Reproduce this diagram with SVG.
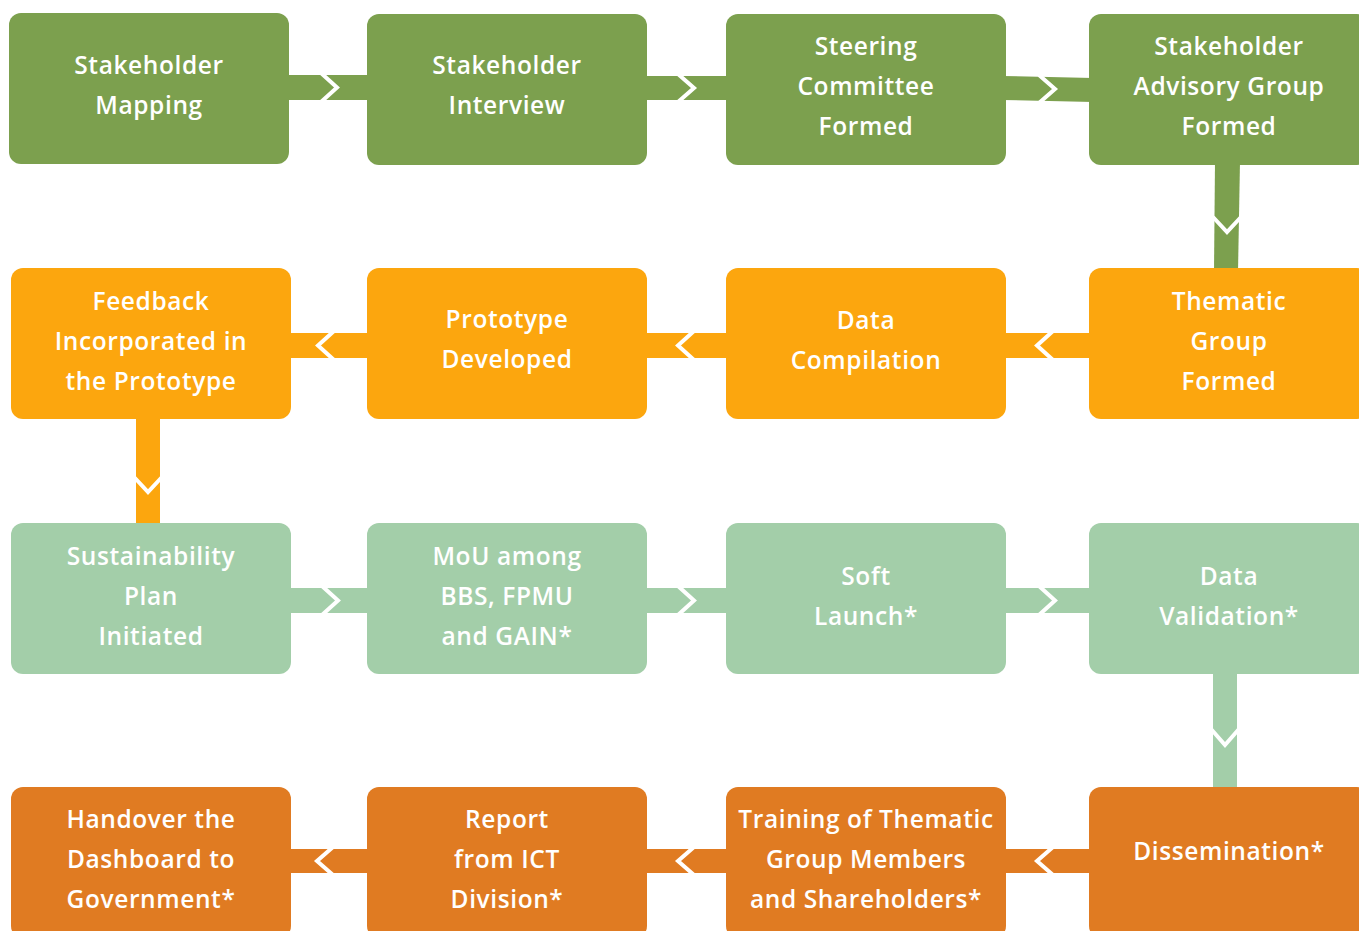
<svg xmlns="http://www.w3.org/2000/svg" width="1359" height="931" viewBox="0 0 1359 931">
<style>
.box{stroke:none}
.g{fill:#7ca04e}.o{fill:#fca60e}.l{fill:#a3cea9}.d{fill:#e07b22}
text{font-family:"Open Sans","Noto Sans","DejaVu Sans",sans-serif;font-weight:600;font-size:24.5px;letter-spacing:0.6px;fill:#ffffff;text-anchor:middle}
.cut{fill:none;stroke:#ffffff;stroke-width:4;stroke-linejoin:miter}
</style>
<rect width="1359" height="931" fill="#ffffff"/>
<g id="connectors">
  <!-- row 1 -->
  <rect class="g" x="285" y="75" width="86" height="25"/>
  <polyline class="cut" points="321,73 337,87.5 321,102"/>
  <rect class="g" x="643" y="76" width="87" height="24"/>
  <polyline class="cut" points="678,74 694,88 678,102"/>
  <polygon class="g" points="1002,76 1093,78 1093,102 1002,100"/>
  <polyline class="cut" points="1039,75 1055,89 1039,103"/>
  <!-- vertical col4 r1-r2 -->
  <polygon class="g" points="1215,161 1240,161 1238,272 1214,272"/>
  <polyline class="cut" points="1213,217 1227,232 1241,217"/>
  <!-- row 2 -->
  <rect class="o" x="287" y="333" width="84" height="25"/>
  <polyline class="cut" points="334,331 318,345.5 334,360"/>
  <rect class="o" x="643" y="333" width="87" height="25"/>
  <polyline class="cut" points="694,331 678,345.5 694,360"/>
  <rect class="o" x="1002" y="333" width="91" height="25"/>
  <polyline class="cut" points="1053,331 1037,345.5 1053,360"/>
  <!-- vertical col1 r2-r3 -->
  <rect class="o" x="136" y="415" width="24" height="112"/>
  <polyline class="cut" points="134,477 148,492 162,477"/>
  <!-- row 3 -->
  <rect class="l" x="287" y="588" width="84" height="25"/>
  <polyline class="cut" points="322,586 338,600.5 322,615"/>
  <rect class="l" x="643" y="588" width="87" height="25"/>
  <polyline class="cut" points="678,586 694,600.5 678,615"/>
  <rect class="l" x="1002" y="588" width="91" height="25"/>
  <polyline class="cut" points="1039,586 1055,600.5 1039,615"/>
  <!-- vertical col4 r3-r4 -->
  <rect class="l" x="1213" y="670" width="24" height="121"/>
  <polyline class="cut" points="1211,729 1225,745 1239,729"/>
  <!-- row 4 -->
  <rect class="d" x="287" y="849" width="84" height="24"/>
  <polyline class="cut" points="333,847 317,861 333,875"/>
  <rect class="d" x="643" y="849" width="87" height="24"/>
  <polyline class="cut" points="694,847 678,861 694,875"/>
  <rect class="d" x="1002" y="849" width="91" height="24"/>
  <polyline class="cut" points="1053,847 1037,861 1053,875"/>
</g>
<g id="n1"><rect class="box g" x="9" y="13" width="280" height="151" rx="12"/><text x="149" y="74">Stakeholder</text><text x="149" y="114">Mapping</text></g>
<g id="n2"><rect class="box g" x="367" y="14" width="280" height="151" rx="12"/><text x="507" y="74">Stakeholder</text><text x="507" y="114">Interview</text></g>
<g id="n3"><rect class="box g" x="726" y="14" width="280" height="151" rx="12"/><text x="866" y="55">Steering</text><text x="866" y="95">Committee</text><text x="866" y="135">Formed</text></g>
<g id="n4"><rect class="box g" x="1089" y="14" width="280" height="151" rx="12"/><text x="1229" y="55">Stakeholder</text><text x="1229" y="95">Advisory Group</text><text x="1229" y="135">Formed</text></g>
<g id="n5"><rect class="box o" x="1089" y="268" width="280" height="151" rx="12"/><text x="1229" y="310">Thematic</text><text x="1229" y="350">Group</text><text x="1229" y="390">Formed</text></g>
<g id="n6"><rect class="box o" x="726" y="268" width="280" height="151" rx="12"/><text x="866" y="329">Data</text><text x="866" y="369">Compilation</text></g>
<g id="n7"><rect class="box o" x="367" y="268" width="280" height="151" rx="12"/><text x="507" y="328">Prototype</text><text x="507" y="368">Developed</text></g>
<g id="n8"><rect class="box o" x="11" y="268" width="280" height="151" rx="12"/><text x="151" y="310">Feedback</text><text x="151" y="350">Incorporated in</text><text x="151" y="390">the Prototype</text></g>
<g id="n9"><rect class="box l" x="11" y="523" width="280" height="151" rx="12"/><text x="151" y="565">Sustainability</text><text x="151" y="605">Plan</text><text x="151" y="645">Initiated</text></g>
<g id="n10"><rect class="box l" x="367" y="523" width="280" height="151" rx="12"/><text x="507" y="565">MoU among</text><text x="507" y="605">BBS, FPMU</text><text x="507" y="645">and GAIN*</text></g>
<g id="n11"><rect class="box l" x="726" y="523" width="280" height="151" rx="12"/><text x="866" y="585">Soft</text><text x="866" y="625">Launch*</text></g>
<g id="n12"><rect class="box l" x="1089" y="523" width="280" height="151" rx="12"/><text x="1229" y="585">Data</text><text x="1229" y="625">Validation*</text></g>
<g id="n13"><rect class="box d" x="1089" y="787" width="280" height="151" rx="12"/><text x="1229" y="860">Dissemination*</text></g>
<g id="n14"><rect class="box d" x="726" y="787" width="280" height="151" rx="12"/><text x="866" y="828">Training of Thematic</text><text x="866" y="868">Group Members</text><text x="866" y="908">and Shareholders*</text></g>
<g id="n15"><rect class="box d" x="367" y="787" width="280" height="151" rx="12"/><text x="507" y="828">Report</text><text x="507" y="868">from ICT</text><text x="507" y="908">Division*</text></g>
<g id="n16"><rect class="box d" x="11" y="787" width="280" height="151" rx="12"/><text x="151" y="828">Handover the</text><text x="151" y="868">Dashboard to</text><text x="151" y="908">Government*</text></g>
</svg>
